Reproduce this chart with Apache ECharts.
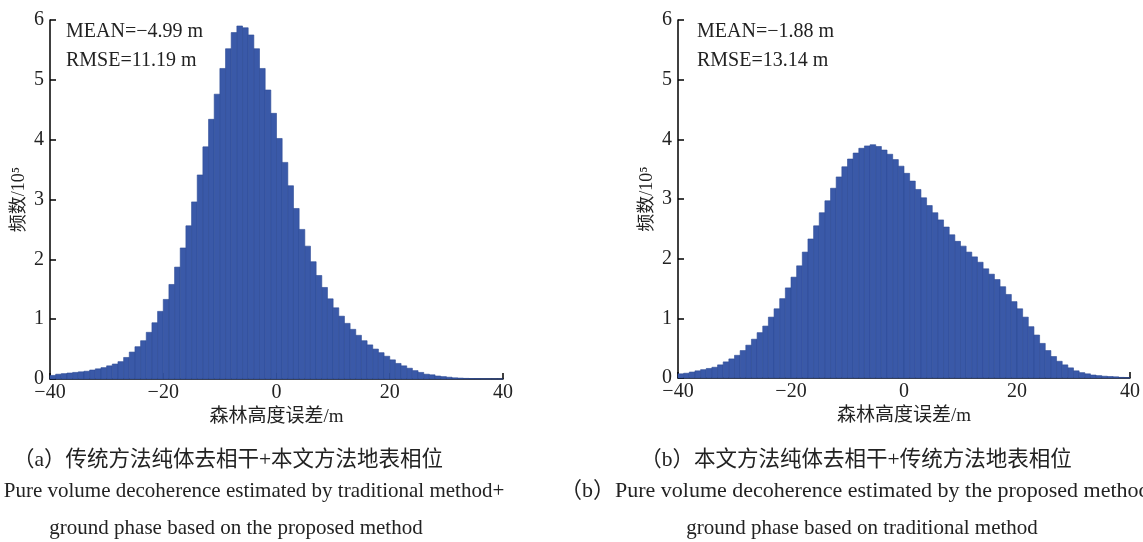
<!DOCTYPE html>
<html>
<head>
<meta charset="utf-8">
<script src="https://cdn.jsdelivr.net/npm/echarts@6/dist/echarts.min.js"></script>
<style>
html,body{margin:0;padding:0;background:#fff;}
#chart{width:1143px;height:542px;}
</style>
</head>
<body>
<div id="chart"></div>
<script>
// Bin lower edges (m), bin width 1 m
const binLefts = [-40,-39,-38,-37,-36,-35,-34,-33,-32,-31,-30,-29,-28,-27,-26,-25,-24,-23,-22,-21,
  -20,-19,-18,-17,-16,-15,-14,-13,-12,-11,-10,-9,-8,-7,-6,-5,-4,-3,-2,-1,
  0,1,2,3,4,5,6,7,8,9,10,11,12,13,14,15,16,17,18,19,
  20,21,22,23,24,25,26,27,28,29,30,31,32,33,34,35,36,37,38,39];
const binWidth = 1;

// (a) frequency / 10^5
const countsA = [0.06,0.08,0.09,0.10,0.11,0.12,0.13,0.15,0.17,0.19,0.22,0.25,0.29,0.36,0.45,0.54,0.64,0.78,0.94,1.13,
  1.33,1.58,1.87,2.19,2.56,2.96,3.41,3.88,4.34,4.76,5.19,5.52,5.79,5.90,5.87,5.75,5.52,5.19,4.83,4.44,
  4.02,3.62,3.23,2.85,2.50,2.22,1.96,1.73,1.53,1.34,1.19,1.05,0.93,0.83,0.73,0.64,0.57,0.50,0.44,0.38,
  0.32,0.26,0.22,0.18,0.14,0.11,0.08,0.07,0.05,0.04,0.03,0.02,0.015,0.01,0.008,0.006,0.004,0.003,0.002,0.001];

// (b) frequency / 10^5
const countsB = [0.07,0.08,0.10,0.12,0.14,0.16,0.18,0.22,0.27,0.32,0.38,0.46,0.55,0.65,0.76,0.87,1.02,1.16,1.33,1.51,
  1.69,1.88,2.11,2.33,2.55,2.77,2.97,3.18,3.37,3.54,3.67,3.77,3.85,3.89,3.91,3.88,3.82,3.75,3.66,3.55,
  3.43,3.30,3.16,3.02,2.89,2.77,2.65,2.53,2.40,2.29,2.21,2.11,2.03,1.94,1.83,1.74,1.65,1.53,1.40,1.28,
  1.16,1.02,0.86,0.72,0.58,0.46,0.36,0.28,0.22,0.17,0.12,0.09,0.07,0.05,0.04,0.03,0.025,0.02,0.01,0.005];

const statsA = ['MEAN=\u22124.99 m', 'RMSE=11.19 m'];
const statsB = ['MEAN=\u22121.88 m', 'RMSE=13.14 m'];
const xName = '森林高度误差/m';
const yName = '频数/10\u2075';
const captionA = ['（a）传统方法纯体去相干+本文方法地表相位', 'Pure volume decoherence estimated by traditional method+', 'ground phase based on the proposed method'];
const captionB = ['（b）本文方法纯体去相干+传统方法地表相位', '（b）Pure volume decoherence estimated by the proposed method+', 'ground phase based on traditional method'];

const SERIF = '"Liberation Serif", "Times New Roman", "Noto Sans CJK SC", serif';
const TXT = '#222';
const BAR_FILL = '#3a59a8';
const BAR_EDGE = '#2c4a95';

function histData(vals){ return binLefts.map((l,i)=>[l, l+binWidth, vals[i]]); }
function renderItem(params, api){
  const p0 = api.coord([api.value(0), api.value(2)]);
  const p1 = api.coord([api.value(1), 0]);
  return {type:'rect', shape:{x:p0[0], y:p0[1], width:p1[0]-p0[0], height:p1[1]-p0[1]},
    style:{fill:BAR_FILL, stroke:BAR_EDGE, lineWidth:0.6}};
}
const minus = v => String(v).replace('-', '\u2212');

function xAxis(idx){
  return {type:'value', gridIndex:idx, min:-40, max:40, interval:20,
    axisLine:{show:true, onZero:false, lineStyle:{color:'#000', width:1.5}},
    axisTick:{show:true, inside:true, length:6, lineStyle:{color:'#000', width:1.5}},
    axisLabel:{color:TXT, fontFamily:SERIF, fontSize:20, margin:4, formatter:minus},
    splitLine:{show:false},
    name:xName, nameLocation:'middle', nameGap:27,
    nameTextStyle:{color:TXT, fontFamily:SERIF, fontSize:19}};
}
function yAxis(idx){
  return {type:'value', gridIndex:idx, min:0, max:6, interval:1,
    axisLine:{show:true, onZero:false, lineStyle:{color:'#000', width:1.5}},
    axisTick:{show:true, inside:true, length:6, lineStyle:{color:'#000', width:1.5}},
    axisLabel:{color:TXT, fontFamily:SERIF, fontSize:20, margin:6},
    splitLine:{show:false},
    name:yName, nameLocation:'middle', nameGap:22,
    nameTextStyle:{color:TXT, fontFamily:SERIF, fontSize:18}};
}
function txt(x, y, s, size, align){
  return {type:'text', x:x, y:y, style:{text:s, fill:TXT, font:size+'px '+SERIF, textAlign:align||'left', textVerticalAlign:'middle'}};
}

const chart = echarts.init(document.getElementById('chart'), null, {renderer:'canvas'});
chart.setOption({
  backgroundColor:'#fff',
  animation:false,
  grid:[
    {left:50, right:640, top:20, bottom:163},
    {left:678, right:12, top:20, bottom:164}
  ],
  xAxis:[xAxis(0), xAxis(1)],
  yAxis:[yAxis(0), yAxis(1)],
  series:[
    {type:'custom', xAxisIndex:0, yAxisIndex:0, renderItem:renderItem, encode:{x:[0,1], y:2}, data:histData(countsA)},
    {type:'custom', xAxisIndex:1, yAxisIndex:1, renderItem:renderItem, encode:{x:[0,1], y:2}, data:histData(countsB)}
  ],
  graphic:[
    txt(66, 32, statsA[0], 20), txt(66, 61, statsA[1], 20),
    txt(697, 32, statsB[0], 20), txt(697, 61, statsB[1], 20),
    txt(228, 460, captionA[0], 21.5, 'center'),
    txt(254, 491, captionA[1], 21, 'center'),
    txt(236, 528, captionA[2], 21, 'center'),
    txt(856, 460, captionB[0], 21.5, 'center'),
    txt(560, 491, captionB[1], 22, 'left'),
    txt(862, 528, captionB[2], 21, 'center')
  ]
});
</script>
</body>
</html>
